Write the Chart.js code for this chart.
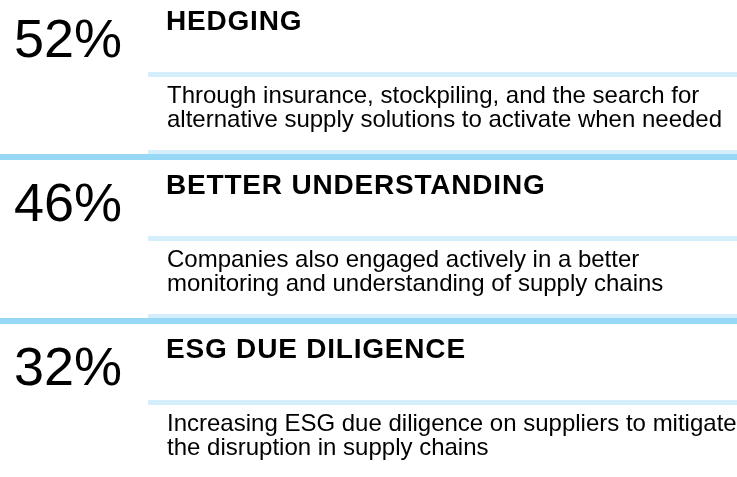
<!DOCTYPE html>
<html lang="en">
<head>
<meta charset="UTF-8">
<meta name="viewport" content="width=device-width, initial-scale=1.0">
<title>Supply Chain Responses</title>
<script src="https://cdn.jsdelivr.net/npm/chart.js@4"></script>
<style>
    html, body {
        margin: 0;
        padding: 0;
        background-color: #fff;
        overflow: hidden;
    }

    /* rows are 164px apart, so the box is a bit taller than the window */
    .chart-box {
        position: absolute;
        left: 0;
        top: -8px;
        width: 737px;
        height: 492px;
    }
</style>
</head>
<body>
<div class="chart-box"><canvas id="responseChart"></canvas></div>

<script>
    const headings = ['HEDGING', 'BETTER UNDERSTANDING', 'ESG DUE DILIGENCE'];
    const shares = [52, 46, 32];
    const notes = [
        ['Through insurance, stockpiling, and the search for', 'alternative supply solutions to activate when needed'],
        ['Companies also engaged actively in a better', 'monitoring and understanding of supply chains'],
        ['Increasing ESG due diligence on suppliers to mitigate', 'the disruption in supply chains']
    ];

    const FONT = "'Liberation Sans', Arial, Helvetica, sans-serif";
    const LIGHT = '#d5eefb';
    const DARK = '#96d8f6';

    // draws the rules and the texts of each row at the y scale's row centre
    const rowText = {
        id: 'rowText',
        afterDatasetsDraw(chart) {
            const ctx = chart.ctx;
            const y = chart.scales.y;
            const right = chart.chartArea.right;
            const step = y.getPixelForValue(1) - y.getPixelForValue(0);
            const values = chart.data.datasets[0].data;

            ctx.save();
            values.forEach((v, i) => {
                const c = y.getPixelForValue(i);
                const edge = c + step / 2;

                ctx.fillStyle = LIGHT;
                ctx.fillRect(148, c - 2, right - 148, 5);
                if (i < values.length - 1) {
                    ctx.fillRect(148, edge - 6, right - 148, 4);
                    ctx.fillStyle = DARK;
                    ctx.fillRect(0, edge - 2, right, 6);
                }

                ctx.fillStyle = '#000';
                ctx.textAlign = 'left';
                ctx.textBaseline = 'alphabetic';

                ctx.letterSpacing = '0px';
                ctx.font = '54px ' + FONT;
                ctx.fillText(v + '%', 14, c - 17);

                ctx.letterSpacing = '0.8px';
                ctx.font = 'bold 28px ' + FONT;
                ctx.fillText(chart.data.labels[i], 166, c - 44);

                ctx.letterSpacing = '0px';
                ctx.font = '24px ' + FONT;
                notes[i].forEach((line, k) => {
                    ctx.fillText(line, 167, c + 29 + k * 24);
                });
            });
            ctx.restore();
        }
    };

    const ctx = document.getElementById('responseChart').getContext('2d');
    new Chart(ctx, {
        type: 'bar',
        data: {
            labels: headings,
            datasets: [{
                label: 'Share of companies',
                data: shares,
                backgroundColor: 'rgba(0, 0, 0, 0)',
                borderWidth: 0
            }]
        },
        options: {
            indexAxis: 'y',
            responsive: true,
            maintainAspectRatio: false,
            animation: false,
            events: [],
            layout: { padding: 0 },
            plugins: {
                legend: { display: false },
                tooltip: { enabled: false }
            },
            scales: {
                x: { display: false, min: 0, max: 100 },
                y: { display: false }
            }
        },
        plugins: [rowText]
    });
</script>
</body>
</html>
